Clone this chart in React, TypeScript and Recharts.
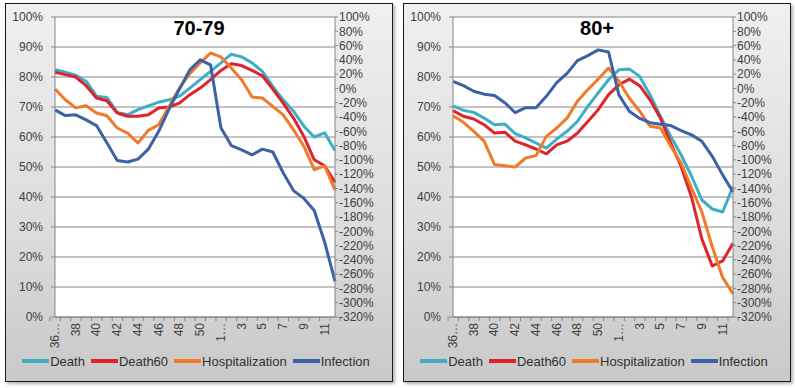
import React from 'react';
import { LineChart, Line, XAxis, YAxis, CartesianGrid, Legend } from 'recharts';

const weeks = ['36…', '37', '38', '39', '40', '41', '42', '43', '44', '45', '46', '47', '48', '49', '50', '51', '1…', '2', '3', '4', '5', '6', '7', '8', '9', '10', '11', '12'];

const leftTicks = [0, 10, 20, 30, 40, 50, 60, 70, 80, 90, 100];
const rightTicks = [-320, -300, -280, -260, -240, -220, -200, -180, -160, -140, -120, -100, -80, -60, -40, -20, 0, 20, 40, 60, 80, 100];

// Panel "70-79"
const death7079 = [82.4, 81.6, 80.6, 78.6, 73.6, 73.2, 68.2, 67.4, 69.1, 70.4, 71.6, 72.4, 73.6, 76.3, 79.1, 81.9, 84.7, 87.6, 86.7, 84.7, 81.9, 76.9, 72.4, 68.6, 63.6, 60.0, 61.4, 55.5];
const death60_7079 = [81.6, 80.8, 80.0, 77.1, 73.0, 72.1, 68.0, 66.9, 66.9, 67.4, 69.7, 70.0, 71.3, 74.1, 76.3, 79.1, 82.2, 84.4, 83.8, 82.2, 80.4, 76.0, 71.3, 66.3, 60.2, 52.4, 50.4, 44.9];
const hosp7079 = [76.0, 72.4, 69.7, 70.4, 68.0, 67.1, 63.0, 61.3, 58.0, 62.2, 64.1, 70.2, 76.3, 81.1, 84.7, 88.0, 86.7, 83.0, 79.1, 73.3, 73.0, 70.2, 67.4, 62.4, 56.9, 49.1, 50.4, 42.4];
const infection7079 = [-30, -38, -37, -44, -52, -76, -101, -103, -99, -85, -60, -29, -1, 26, 40, 33, -55, -80, -86, -93, -85, -89, -118, -143, -154, -171, -215, -270];

// Panel "80+"
const death80 = [70.4, 68.9, 68.2, 66.3, 64.1, 64.3, 61.1, 59.7, 58.0, 56.3, 59.3, 61.9, 65.2, 70.2, 74.7, 79.1, 82.4, 82.7, 80.2, 74.1, 66.9, 60.2, 54.0, 47.0, 39.0, 36.0, 35.0, 43.5];
const death60_80 = [68.8, 66.9, 66.0, 64.1, 61.3, 61.6, 58.6, 57.4, 56.0, 54.4, 57.4, 58.6, 61.3, 65.2, 69.1, 74.1, 77.4, 79.3, 77.1, 72.4, 66.3, 58.0, 50.2, 40.0, 26.0, 17.0, 18.7, 24.6];
const hosp80 = [67.1, 64.9, 61.9, 58.6, 50.8, 50.4, 50.0, 53.0, 53.8, 60.2, 63.0, 66.3, 71.9, 75.8, 79.3, 83.0, 78.6, 73.0, 68.6, 63.6, 63.0, 56.9, 51.3, 43.0, 35.0, 23.4, 13.2, 7.7];
const infection80 = [10, 4, -4, -8, -10, -20, -34, -27, -27, -11, 8, 21, 39, 46, 54, 51, -9, -32, -42, -48, -50, -52, -59, -65, -74, -95, -121, -145];

const FONT = "'Liberation Sans', Arial, sans-serif";
const CHART_W = 386;
const CHART_H = 377;
const LEFT_W = 49;
const RIGHT_W = 57;
const BAND = (CHART_W - LEFT_W - RIGHT_W) / weeks.length;
const AXIS_COLOR = '#868686';
const TEXT_COLOR = '#404040';

const COLORS = {
  Death: '#3DAEC6',
  Death60: '#E0222B',
  Hospitalization: '#F07A2A',
  Infection: '#3B62A6',
};

const buildRows = (d: number[], d60: number[], h: number[], inf: number[]) =>
  weeks.map((w, i) => ({ week: w, Death: d[i], Death60: d60[i], Hospitalization: h[i], Infection: inf[i] }));

const rows7079 = buildRows(death7079, death60_7079, hosp7079, infection7079);
const rows80 = buildRows(death80, death60_80, hosp80, infection80);

const XTick = (props: any) => {
  const { x, y, payload, index } = props;
  const axisY = y - 6;
  const last = index === weeks.length - 1;
  return (
    <g>
      <line x1={x - BAND / 2} x2={x - BAND / 2} y1={axisY} y2={axisY + 4} stroke={AXIS_COLOR} />
      {last && <line x1={x + BAND / 2} x2={x + BAND / 2} y1={axisY} y2={axisY + 4} stroke={AXIS_COLOR} />}
      {index % 2 === 0 && (
        <text
          x={x}
          y={y}
          transform={`rotate(-90 ${x} ${y})`}
          textAnchor="end"
          dominantBaseline="central"
          fontSize={12}
          fontFamily={FONT}
          fill={TEXT_COLOR}
        >
          {payload.value}
        </text>
      )}
    </g>
  );
};

const renderLegend = (props: any) => {
  const { payload } = props;
  return (
    <div style={{ display: 'flex', justifyContent: 'center', alignItems: 'center', fontFamily: FONT, fontSize: 13, color: '#303030', height: 20 }}>
      {(payload || []).map((p: any) => (
        <div key={p.value} style={{ display: 'flex', alignItems: 'center', marginRight: 6 }}>
          <span style={{ display: 'inline-block', width: 27, height: 4, background: p.color, marginRight: 1 }} />
          <span>{p.value}</span>
        </div>
      ))}
    </div>
  );
};

const pct = (v: number) => `${v}%`;

const Panel = ({ left, title, rows }: { left: number; title: string; rows: any[] }) => (
  <div
    style={{
      position: 'absolute',
      left,
      top: 3,
      width: 388,
      height: 379,
      boxSizing: 'border-box',
      border: '1px solid #1a1a1a',
      background: 'linear-gradient(to bottom, #efefef 0%, #dcdcdc 60%, #c9c9c9 100%)',
      boxShadow: '2px 2px 3px rgba(0,0,0,0.3)',
    }}
  >
    <LineChart width={CHART_W} height={CHART_H} data={rows} margin={{ top: 13, right: 0, bottom: 0, left: 0 }}>
      <CartesianGrid yAxisId="left" vertical={false} stroke={AXIS_COLOR} fill="#ffffff" />
      <XAxis
        dataKey="week"
        interval={0}
        tickLine={false}
        tickSize={4}
        tickMargin={2}
        height={64}
        tick={<XTick />}
        axisLine={{ stroke: AXIS_COLOR }}
      />
      <YAxis
        yAxisId="left"
        orientation="left"
        domain={[0, 100]}
        ticks={leftTicks}
        tickFormatter={pct}
        width={LEFT_W}
        tickSize={4}
        tickMargin={8}
        allowDataOverflow
        axisLine={{ stroke: AXIS_COLOR }}
        tickLine={{ stroke: AXIS_COLOR }}
        tick={{ fontSize: 12, fontFamily: FONT, fill: TEXT_COLOR }}
        interval={0}
      />
      <YAxis
        yAxisId="right"
        orientation="right"
        domain={[-320, 100]}
        ticks={rightTicks}
        tickFormatter={pct}
        width={RIGHT_W}
        tickSize={3}
        tickMargin={1}
        allowDataOverflow
        axisLine={{ stroke: AXIS_COLOR }}
        tickLine={{ stroke: AXIS_COLOR }}
        tick={{ fontSize: 12, fontFamily: FONT, fill: TEXT_COLOR }}
        interval={0}
      />
      <Legend
        verticalAlign="middle"
        layout="horizontal"
        content={renderLegend}
        wrapperStyle={{ top: 347, left: 0, width: CHART_W, height: 20 }}
      />
      <Line yAxisId="left" type="linear" dataKey="Death" stroke={COLORS.Death} strokeWidth={3} dot={false} isAnimationActive={false} strokeLinejoin="round" />
      <Line yAxisId="left" type="linear" dataKey="Death60" stroke={COLORS.Death60} strokeWidth={3} dot={false} isAnimationActive={false} strokeLinejoin="round" />
      <Line yAxisId="left" type="linear" dataKey="Hospitalization" stroke={COLORS.Hospitalization} strokeWidth={3} dot={false} isAnimationActive={false} strokeLinejoin="round" />
      <Line yAxisId="right" type="linear" dataKey="Infection" stroke={COLORS.Infection} strokeWidth={3} dot={false} isAnimationActive={false} strokeLinejoin="round" />
    </LineChart>
    <div
      style={{
        position: 'absolute',
        left: 0,
        top: 14,
        width: CHART_W,
        textAlign: 'center',
        fontFamily: FONT,
        fontWeight: 'bold',
        fontSize: 20,
        lineHeight: '20px',
        color: '#000',
        pointerEvents: 'none',
      }}
    >
      {title}
    </div>
  </div>
);

export default function App() {
  return (
    <div style={{ position: 'absolute', left: 0, top: 0, width: 795, height: 388, background: '#ffffff' }}>
      <Panel left={5} title="70-79" rows={rows7079} />
      <Panel left={403} title="80+" rows={rows80} />
    </div>
  );
}
